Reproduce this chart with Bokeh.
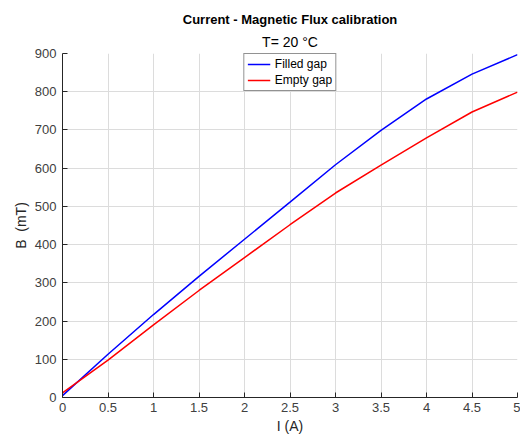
from bokeh.plotting import figure
from bokeh.models import Title, Range1d, FixedTicker, Legend, LegendItem
from bokeh.embed import file_html
from bokeh.resources import INLINE

# Coil current (A) and measured flux density (mT)
current = [0.0, 0.5, 1.0, 1.5, 2.0, 2.5, 3.0, 3.5, 4.0, 4.5, 5.0]
b_filled = [5, 113, 217, 317, 414, 511, 609, 699, 781, 846, 897]
b_empty = [12, 98, 190, 280, 366, 452, 535, 608, 679, 747, 799]

x_ticks = [0, 0.5, 1, 1.5, 2, 2.5, 3, 3.5, 4, 4.5, 5]
y_ticks = [0, 100, 200, 300, 400, 500, 600, 700, 800, 900]

FONT = "Liberation Sans"
AX_COLOR = "#262626"
TXT_COLOR = "#404040"

p = figure(width=520, height=436, output_backend="svg", toolbar_location=None,
           x_range=Range1d(0, 5), y_range=Range1d(0, 900),
           min_border_left=62, min_border_right=3, min_border_top=53,
           min_border_bottom=0)
p.title = None
p.outline_line_color = None
p.background_fill_color = "white"
p.border_fill_color = "white"

# Two-line heading: subtitle first so the bold title sits on top
sub = Title(text="T= 20 °C", align="center", text_font=FONT,
            text_font_size="14px", text_font_style="normal",
            text_color="#000000", standoff=7)
main = Title(text="Current - Magnetic Flux calibration", align="center",
             text_font=FONT, text_font_size="13px", text_font_style="bold",
             text_color="#000000", standoff=4)
p.add_layout(sub, "above")
p.add_layout(main, "above")

for ax in (p.xaxis[0], p.yaxis[0]):
    ax.axis_line_color = AX_COLOR
    ax.axis_line_width = 1
    ax.major_tick_line_color = AX_COLOR
    ax.major_tick_in = 5
    ax.major_tick_out = 0
    ax.minor_tick_line_color = None
    ax.major_label_text_font = FONT
    ax.major_label_text_font_size = "13px"
    ax.major_label_text_color = TXT_COLOR
    ax.axis_label_text_font = FONT
    ax.axis_label_text_font_size = "14px"
    ax.axis_label_text_font_style = "normal"
    ax.axis_label_text_color = AX_COLOR

p.xaxis[0].ticker = FixedTicker(ticks=x_ticks)
p.yaxis[0].ticker = FixedTicker(ticks=y_ticks)
p.xaxis[0].major_label_overrides = {0: "0", 1: "1", 2: "2", 3: "3", 4: "4", 5: "5"}
p.xaxis[0].axis_label = "I (A)"
p.yaxis[0].axis_label = "B \u00a0(mT)"
p.xaxis[0].major_label_standoff = 5
p.xaxis[0].axis_label_standoff = 3
p.yaxis[0].major_label_standoff = 6
p.yaxis[0].axis_label_standoff = 3

p.xgrid.grid_line_color = "#dcdcdc"
p.ygrid.grid_line_color = "#dcdcdc"
p.xgrid.ticker = FixedTicker(ticks=x_ticks)
p.ygrid.ticker = FixedTicker(ticks=y_ticks)

r_filled = p.line(current, b_filled, line_color="#0000ff", line_width=1.5)
r_empty = p.line(current, b_empty, line_color="#ff0000", line_width=1.5)

legend = Legend(items=[LegendItem(label="Filled gap", renderers=[r_filled]),
                       LegendItem(label="Empty gap", renderers=[r_empty])],
                location="top_center", margin=0, padding=3, spacing=2,
                glyph_width=23, glyph_height=14, label_height=14,
                label_standoff=5, label_text_font=FONT,
                label_text_font_size="12px", label_text_color="#000000",
                border_line_color="#262626", border_line_width=1,
                background_fill_color="white", background_fill_alpha=1)
p.add_layout(legend, "center")

open("out.html", "w").write(file_html(p, INLINE))
